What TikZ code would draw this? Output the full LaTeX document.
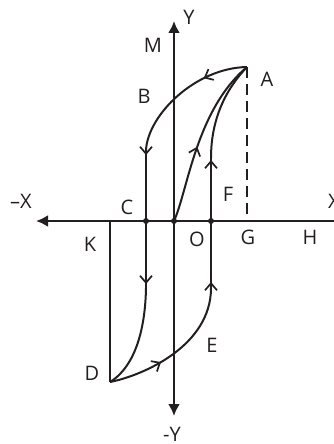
\documentclass[tikz,border=0pt]{standalone}
\usepackage{fontspec}
\setmainfont{Open Sans}
\usetikzlibrary{arrows.meta,decorations.markings}
\definecolor{ink}{RGB}{35,31,32}
\tikzset{
  lbl/.style={font=\fontsize{20}{20}\selectfont, text=ink, inner sep=0pt},
  curve/.style={draw=ink, line width=2pt},
  axis/.style={draw=ink, line width=2.9pt},
  barb/.style={postaction={decorate, decoration={markings, mark=at position #1 with {\arrow{Straight Barb[length=7pt,width=12pt,line width=1.7pt]}}}}},
  dot/.style={circle, fill=ink, inner sep=0pt, minimum size=6pt},
  dashedline/.style={draw=ink, line width=2.8pt, dash pattern=on 11pt off 6pt},
}
\begin{document}
\begin{tikzpicture}[x=1pt, y=-1pt, color=ink]
\useasboundingbox (0,0) rectangle (334,444);
% key points
\coordinate (A) at (247,67);
\coordinate (G) at (247,221);
\coordinate (Ctop) at (146,150);
\coordinate (Cbot) at (146,288);
\coordinate (D) at (110,382);
\coordinate (K) at (110,221);
\coordinate (Fbot) at (211,288);
\coordinate (Ftop) at (211,158);
\coordinate (Xr) at (334,221);
\coordinate (Xl) at (36,221);
\coordinate (Yt) at (174,21);
\coordinate (Yb) at (174,416);
% axes
\draw[axis, -{Latex[length=12pt,width=12pt]}] (Xr) -- (Xl);
\draw[axis, {Latex[length=12pt,width=12pt]}-{Latex[length=12pt,width=12pt]}] (Yb) -- (Yt);
% dashed ordinate at A
\draw[dashedline] (A) -- (G);
% K line
\draw[curve] (K) -- (D);
% loop
\draw[curve, barb=0.32] (A) .. controls (195,68) and (148,115) .. (Ctop);
\draw[curve, barb=5pt, barb=134pt] (Ctop) -- (Cbot);
\draw[curve] (Cbot) .. controls (145,340) and (130,370) .. (D);
\draw[curve, barb=0.37] (D) .. controls (145,375) and (211,345) .. (Fbot);
\draw[curve, barb=6pt, barb=128pt] (Fbot) -- (Ftop);
\draw[curve] (Ftop) .. controls (211,120) and (225,90) .. (A);
% initial magnetisation curve
\node[dot] (O) at (174,221) {};
\node[dot] (C) at (146,221) {};
\node[dot] (F0) at (211,221) {};
\draw[curve, barb=0.45] (O.center) .. controls (188,190) and (196,110) .. (A);
% labels
\node[lbl] (lY) at (189,17) {Y};
\node[lbl] (lM) at (153,45) {M};
\node[lbl] (lA) at (267,79) {A};
\node[lbl] (lB) at (144,96) {B};
\node[lbl] (lF) at (228,194) {F};
\node[lbl] (lC) at (127,207) {C};
\node[lbl] (lmX) at (21,201) {–X};
\node[lbl] (lX) at (334,201) {X};
\node[lbl] (lK) at (90,244) {K};
\node[lbl] (lO) at (197,239) {O};
\node[lbl] (lG) at (248,237) {G};
\node[lbl] (lH) at (310,237) {H};
\node[lbl] (lE) at (212,345) {E};
\node[lbl] (lD) at (92,373) {D};
\node[lbl] (lmY) at (172,434) {-Y};
\end{tikzpicture}
\end{document}
